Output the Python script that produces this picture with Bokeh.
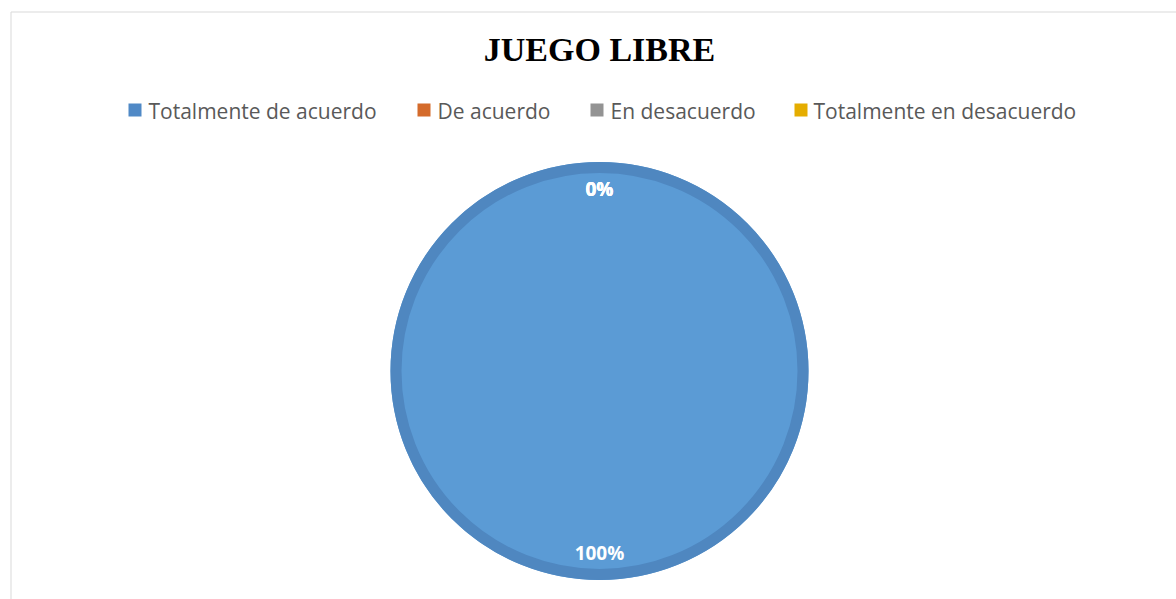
import math
from bokeh.plotting import figure
from bokeh.models import Range1d
from bokeh.core.properties import value
from bokeh.embed import file_html
from bokeh.resources import INLINE

# ---- data ----
title = "JUEGO LIBRE"
categories = ["Totalmente de acuerdo", "De acuerdo", "En desacuerdo", "Totalmente en desacuerdo"]
values = [100, 0, 0, 0]
colors = ["#5B9BD5", "#ED7D31", "#A5A5A5", "#FFC000"]
legend_colors = ["#5089C6", "#D46B2B", "#939393", "#E5AD00"]

# ---- layout constants (pixels, figure coords, y up) ----
W, H = 1176, 599
cx, cy = 599, H - 370.5
R = 203.5
LABEL_R = 182
legend_sq_x = [134.5, 423.5, 596.5, 800.5]
legend_tx_x = [148, 437, 610, 813]

p = figure(width=W, height=H, output_backend="svg", toolbar_location=None,
           x_range=Range1d(0, W), y_range=Range1d(0, H), min_border=0)
p.axis.visible = False
p.grid.visible = False
p.outline_line_color = None
p.background_fill_color = "white"
p.border_fill_color = "white"

# chart-area border (extends past the window on right/bottom)
p.quad(left=[10.5], right=[W + 50], top=[H - 11.5], bottom=[-50],
       fill_color=None, line_color="#D9D9D9", line_width=1)

# title
p.text(x=[cx], y=[H - 49], text=[title], text_font=value("Liberation Serif"),
       text_font_style="bold", text_font_size="34px", text_color="#000000",
       text_align="center", text_baseline="alphabetic")

# legend
p.rect(x=legend_sq_x, y=[H - 109.5] * 4, width=13, height=13,
       fill_color=legend_colors, line_color=None)
p.text(x=legend_tx_x, y=[H - 110] * 4, text=categories,
       text_font=value("Open Sans"), text_font_size="21px", text_color="#595959",
       text_align="left", text_baseline="alphabetic")

# pie
total = sum(values)
starts, ends, mids = [], [], []
a = math.pi / 2
for v in values:
    sweep = 2 * math.pi * v / total
    starts.append(a)
    ends.append(a - sweep)
    mids.append(a - sweep / 2)
    a -= sweep

nz = [i for i, v in enumerate(values) if v > 0]
for i in nz:
    if abs(starts[i] - ends[i]) >= 2 * math.pi - 1e-9:
        p.circle(x=[cx], y=[cy], radius=R + 5.5, fill_color=colors[i], line_color=None)
        p.circle(x=[cx], y=[cy], radius=R, fill_color=None, line_color="#4F87C0",
                 line_width=11)
    else:
        p.wedge(x=cx, y=cy, radius=R, start_angle=starts[i], end_angle=ends[i],
                direction="clock", fill_color=colors[i], line_color="#4F87C0",
                line_width=11)

# data labels
lx = [cx + LABEL_R * math.cos(m) for m in mids]
ly = [cy + LABEL_R * math.sin(m) for m in mids]
labels = [f"{round(100 * v / total)}%" for v in values]
p.text(x=lx, y=ly, text=labels, text_font=value("Open Sans"), text_font_style="bold",
       text_font_size="19px", text_color="white", text_align="center",
       text_baseline="middle")

open("out.html", "w").write(file_html(p, INLINE))
